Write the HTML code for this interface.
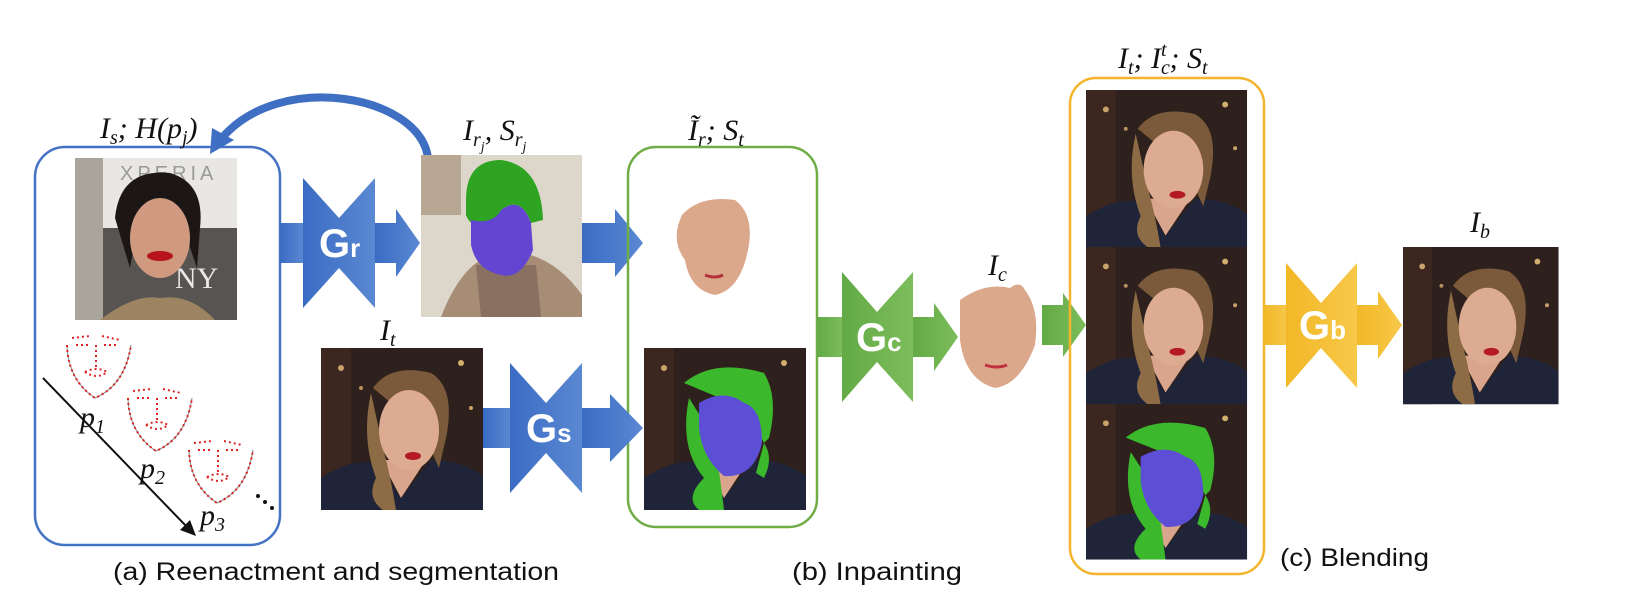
<!DOCTYPE html>
<html><head><meta charset="utf-8"><style>
html,body{margin:0;padding:0;background:#fff;}
svg{display:block;}
.m{font-family:"Liberation Serif",serif;font-style:italic;font-size:30px;fill:#111;}
.s{font-size:20px;}
.cap{font-family:"Liberation Sans",sans-serif;font-size:25px;fill:#111;}
.g{font-family:"Liberation Sans",sans-serif;font-weight:bold;fill:#fff;}
</style></head><body>
<svg width="1648" height="616" viewBox="0 0 1648 616" xmlns="http://www.w3.org/2000/svg">
<defs>
<linearGradient id="bl" x1="0" x2="1"><stop offset="0" stop-color="#3a6cc4"/><stop offset="1" stop-color="#5b88d2"/></linearGradient>
<linearGradient id="gr" x1="0" x2="1"><stop offset="0" stop-color="#62aa45"/><stop offset="1" stop-color="#7dbd5c"/></linearGradient>
<linearGradient id="ye" x1="0" x2="1"><stop offset="0" stop-color="#f2b826"/><stop offset="1" stop-color="#f7c84a"/></linearGradient>
<g id="scar">
 <rect width="162" height="162" fill="#2e211d"/>
 <rect x="0" y="0" width="30" height="162" fill="#3b2620"/>
 <circle cx="20" cy="20" r="3" fill="#c9a46a"/><circle cx="140" cy="15" r="3" fill="#d2b070"/><circle cx="150" cy="60" r="2" fill="#c9a46a"/><circle cx="40" cy="40" r="2" fill="#b89060"/>
 <path d="M0 130 Q30 110 55 115 L80 150 L110 112 Q140 112 162 128 L162 162 L0 162Z" fill="#1f2438"/>
 <path d="M60 112 L80 150 L105 112Z" fill="#d9a58c"/>
 <path d="M52 40 Q70 15 110 25 Q135 40 125 90 L118 120 L100 80Z" fill="#7a5a3a"/>
 <path d="M50 45 Q40 90 55 130 Q45 150 62 162 L75 162 Q70 130 62 100Z" fill="#8d6b45"/>
 <ellipse cx="88" cy="82" rx="30" ry="40" fill="#dcab92"/>
 <ellipse cx="92" cy="108" rx="8" ry="4" fill="#b51a22"/>
</g>
<g id="scarseg">
 <rect width="162" height="162" fill="#2e211d"/>
 <rect x="0" y="0" width="30" height="162" fill="#3b2620"/>
 <circle cx="20" cy="20" r="3" fill="#c9a46a"/><circle cx="140" cy="15" r="3" fill="#d2b070"/>
 <path d="M0 130 Q30 110 55 115 L80 150 L110 112 Q140 112 162 128 L162 162 L0 162Z" fill="#1f2438"/>
 <path d="M60 112 L80 150 L105 112Z" fill="#d9a58c"/>
 <path d="M40 35 Q70 10 120 25 Q135 50 125 90 L120 95 L100 60 Z" fill="#3cb82c"/>
 <path d="M45 50 Q35 100 60 130 Q40 150 55 162 L80 162 Q75 120 70 90 Z" fill="#3cb82c"/>
 <path d="M120 95 Q130 110 120 130 L112 125 Z" fill="#3cb82c"/>
 <path d="M55 55 Q80 40 100 55 Q118 60 118 95 Q110 130 80 128 Q58 110 55 80Z" fill="#5c4fd6"/>
</g>
</defs>

<rect x="35" y="147" width="245" height="398" rx="30" fill="none" stroke="#4472c4" stroke-width="2.5"/>
<text class="m" x="100" y="138">I<tspan class="s" dy="6">s</tspan><tspan dy="-6">; H(p</tspan><tspan class="s" dy="6">j</tspan><tspan dy="-6">)</tspan></text>
<g transform="translate(75,158)">
 <rect width="162" height="162" fill="#e9e7e3"/>
 <rect width="28" height="162" fill="#a9a49c"/>
 <rect x="28" y="70" width="134" height="92" fill="#575451"/>
 <text x="45" y="22" font-family="Liberation Sans,sans-serif" font-size="20" fill="#9a9a9a" letter-spacing="4">XPERIA</text>
 <text x="100" y="130" font-family="Liberation Serif,serif" font-size="30" fill="#e8e8e8">NY</text>
 <path d="M40 60 Q45 10 95 15 Q130 25 125 70 L122 110 L105 60 L65 55 L55 110Z" fill="#1c1614"/>
 <ellipse cx="85" cy="80" rx="30" ry="40" fill="#cf9a80"/>
 <ellipse cx="85" cy="98" rx="13" ry="5" fill="#b8141e"/>
 <path d="M25 162 Q60 135 85 140 Q115 135 140 162Z" fill="#9c8462"/>
</g>
<g fill="none" stroke="#888" stroke-width="1" >
 <path d="M67 345 Q68 380 95 398 Q125 385 131 345"/>
 <path d="M128 398 Q129 433 156 451 Q186 438 192 398"/>
 <path d="M189 450 Q190 485 217 503 Q247 490 253 450"/>
</g>
<g fill="#d22" stroke="#d22" stroke-width="2" stroke-dasharray="2 3">
 <path d="M67 345 Q68 380 95 398 Q125 385 131 345 M72 338 L90 336 M102 336 L120 340 M76 345 h12 M104 345 h12 M96 345 v22 M85 372 Q97 366 107 372 Q97 380 85 372" fill="none"/>
 <path d="M128 398 Q129 433 156 451 Q186 438 192 398 M133 391 L151 389 M163 389 L181 393 M137 398 h12 M165 398 h12 M157 398 v22 M146 425 Q158 419 168 425 Q158 433 146 425" fill="none"/>
 <path d="M189 450 Q190 485 217 503 Q247 490 253 450 M194 443 L212 441 M224 441 L242 445 M198 450 h12 M226 450 h12 M218 450 v22 M207 477 Q219 471 229 477 Q219 485 207 477" fill="none"/>
</g>
<text class="m" x="80" y="427">p<tspan class="s" dy="6">1</tspan></text>
<text class="m" x="140" y="478">p<tspan class="s" dy="6">2</tspan></text>
<text class="m" x="200" y="525">p<tspan class="s" dy="6">3</tspan></text>
<g fill="#111"><circle cx="258" cy="496" r="2"/><circle cx="265" cy="502" r="2"/><circle cx="272" cy="508" r="2"/></g>
<line x1="43" y1="378" x2="188" y2="528" stroke="#111" stroke-width="2"/>
<path d="M196 536 L180 530 L190 520Z" fill="#111"/>

<path d="M428 158 C420 95 280 70 222 138" fill="none" stroke="#3f6fc2" stroke-width="8"/>
<path d="M210 154 L212 128 L234 140Z" fill="#3f6fc2"/>

<g fill="url(#bl)">
 <rect x="280" y="223" width="24" height="40"/>
 <path d="M303 178 L339 218 L375 178 L375 308 L339 268 L303 308Z"/>
 <path d="M375 223 L396 223 L396 209 L420 243 L396 277 L396 263 L375 263Z"/>
</g>
<text class="g" x="319" y="257" font-size="40">G<tspan font-size="26">r</tspan></text>

<g transform="translate(421,155)">
 <rect width="161" height="162" fill="#ddd6cb"/>
 <rect x="0" y="0" width="40" height="60" fill="#b8a893"/>
 <path d="M20 162 Q40 110 70 100 L110 100 Q140 110 161 140 L161 162Z" fill="#a78d76"/>
 <path d="M55 110 L60 162 L120 162 L115 110Z" fill="#8a7060"/>
 <path d="M45 45 Q45 5 80 5 Q120 10 122 65 L110 68 Q100 40 80 55 L72 70 Q50 75 45 60Z" fill="#2fa422"/>
 <path d="M50 65 Q72 70 80 55 Q100 40 110 68 L112 95 Q100 125 80 120 Q55 115 50 90Z" fill="#6246d2"/>
</g>
<text class="m" x="463" y="140">I<tspan class="s" dy="6">r</tspan><tspan font-size="14" dy="5">j</tspan><tspan dy="-11">, S</tspan><tspan class="s" dy="6">r</tspan><tspan font-size="14" dy="5">j</tspan></text>

<path d="M582 223 L615 223 L615 209 L643 243 L615 277 L615 263 L582 263Z" fill="url(#bl)"/>

<rect x="628" y="147" width="189" height="380" rx="28" fill="none" stroke="#70ad47" stroke-width="2.5"/>
<text class="m" x="688" y="140">Ĩ<tspan class="s" dy="6">r</tspan><tspan dy="-6">; S</tspan><tspan class="s" dy="6">t</tspan></text>
<path d="M682 215 Q700 195 735 200 Q755 215 748 250 Q740 290 715 295 Q690 290 685 260 Q670 240 682 215Z" fill="#dca88c"/>
<path d="M705 275 q10 4 18 0" stroke="#b5303a" stroke-width="3" fill="none"/>
<use href="#scarseg" transform="translate(644,348)"/>

<text class="m" x="380" y="340">I<tspan class="s" dy="6">t</tspan></text>
<use href="#scar" transform="translate(321,348)"/>

<g fill="url(#bl)">
 <rect x="483" y="408" width="28" height="40"/>
 <path d="M510 363 L546 403 L582 363 L582 493 L546 453 L510 493Z"/>
 <path d="M582 408 L610 408 L610 394 L643 428 L610 462 L610 448 L582 448Z"/>
</g>
<text class="g" x="526" y="442" font-size="40">G<tspan font-size="26">s</tspan></text>

<g fill="url(#gr)">
 <rect x="817" y="317" width="26" height="40"/>
 <path d="M842 272 L877 312 L913 272 L913 402 L877 362 L842 402Z"/>
 <path d="M913 317 L934 317 L934 303 L958 337 L934 371 L934 357 L913 357Z"/>
</g>
<text class="g" x="856" y="351" font-size="40">G<tspan font-size="26">c</tspan></text>

<text class="m" x="988" y="275">I<tspan class="s" dy="6">c</tspan></text>
<path d="M960 300 Q985 282 1010 288 Q1020 280 1025 290 Q1040 310 1035 345 Q1020 385 995 388 Q965 380 960 340Z" fill="#dca88c"/>
<path d="M985 365 q12 4 22 0" stroke="#c03040" stroke-width="3" fill="none"/>

<path d="M1042 305 L1063 305 L1063 293 L1086 325 L1063 357 L1063 345 L1042 345Z" fill="url(#gr)"/>

<rect x="1070" y="78" width="194" height="496" rx="26" fill="none" stroke="#f2b52c" stroke-width="2.5"/>
<text class="m" x="1118" y="68">I<tspan class="s" dy="6">t</tspan><tspan dy="-6">; I</tspan><tspan class="s" dy="6">c</tspan><tspan class="s" dx="-9" dy="-18">t</tspan><tspan dx="3" dy="12">; S</tspan><tspan class="s" dy="6">t</tspan></text>
<use href="#scar" transform="translate(1086,90) scale(0.994,0.97)"/>
<use href="#scar" transform="translate(1086,247) scale(0.994,0.97)"/>
<use href="#scarseg" transform="translate(1086,404) scale(0.994,0.96)"/>

<g fill="url(#ye)">
 <rect x="1264" y="305" width="24" height="40"/>
 <path d="M1286 263 L1321 303 L1357 263 L1357 388 L1321 348 L1286 388Z"/>
 <path d="M1357 305 L1378 305 L1378 291 L1402 325 L1378 359 L1378 345 L1357 345Z"/>
</g>
<text class="g" x="1299" y="339" font-size="40">G<tspan font-size="26">b</tspan></text>

<text class="m" x="1470" y="232">I<tspan class="s" dy="6">b</tspan></text>
<use href="#scar" transform="translate(1403,247) scale(0.96,0.97)"/>

<text class="cap" x="113" y="580" textLength="446" lengthAdjust="spacingAndGlyphs">(a) Reenactment and segmentation</text>
<text class="cap" x="792" y="580" textLength="170" lengthAdjust="spacingAndGlyphs">(b) Inpainting</text>
<text class="cap" x="1280" y="566" textLength="149" lengthAdjust="spacingAndGlyphs">(c) Blending</text>
</svg>
</body></html>
